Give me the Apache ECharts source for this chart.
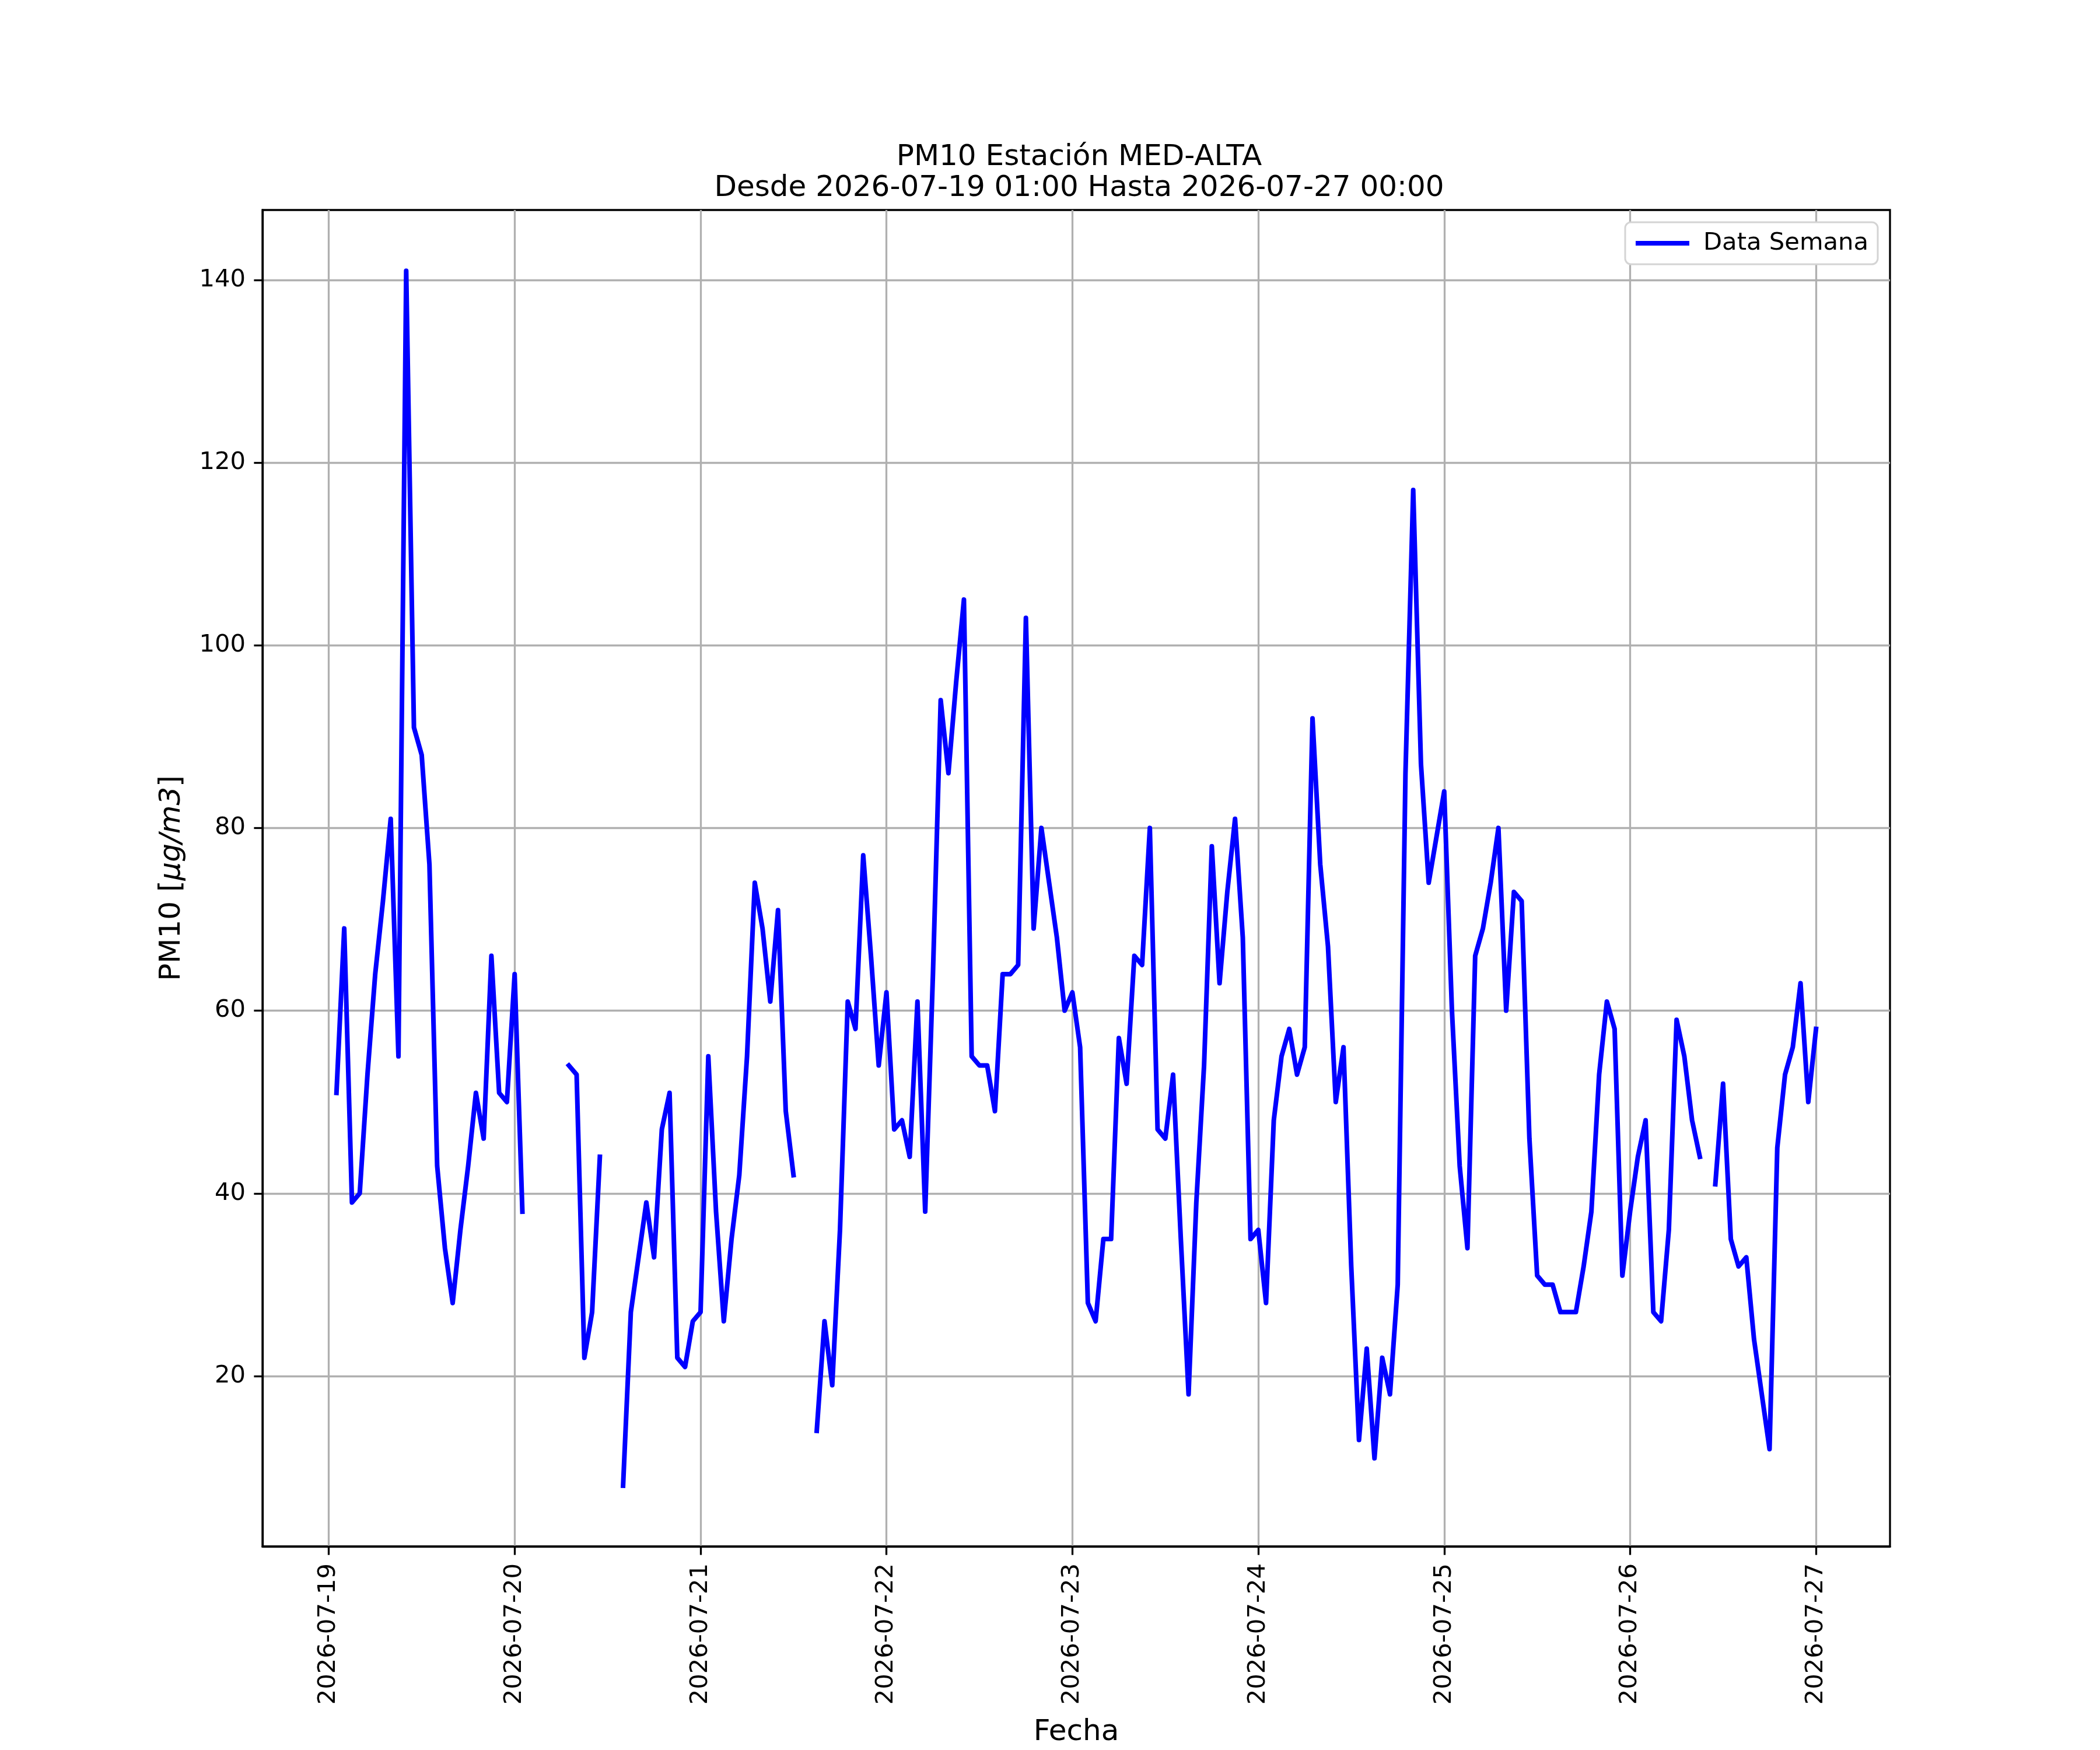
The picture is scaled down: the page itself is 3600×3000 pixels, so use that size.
<!DOCTYPE html>
<html>
<head>
<meta charset="utf-8">
<title>PM10 Estación MED-ALTA</title>
<script src="https://cdn.jsdelivr.net/npm/echarts@6/dist/echarts.min.js"></script>
<style>
  html, body { margin: 0; padding: 0; background: #fff; }
  #chart { width: 3600px; height: 3000px; }
</style>
</head>
<body>
<div id="chart"></div>
<script>
// hourly readings, first one at 2026-07-19 01:00, null = no data
const firstHour = '2026-07-19 01:00';
const pm10 = [
  51, 69, 39, 40, 53, 64, 72, 81, 55, 141, 91, 88, 76, 43, 34, 28, 36, 43, 51, 46, 66, 51, 50, 64,
  38, null, null, null, null, null, 54, 53, 22, 27, 44, null, null, 8, 27, 33, 39, 33, 47, 51, 22, 21, 26, 27,
  55, 38, 26, 35, 42, 55, 74, 69, 61, 71, 49, 42, null, null, 14, 26, 19, 36, 61, 58, 77, 66, 54, 62,
  47, 48, 44, 61, 38, 64, 94, 86, 96, 105, 55, 54, 54, 49, 64, 64, 65, 103, 69, 80, 74, 68, 60, 62,
  56, 28, 26, 35, 35, 57, 52, 66, 65, 80, 47, 46, 53, 35, 18, 39, 54, 78, 63, 73, 81, 68, 35, 36,
  28, 48, 55, 58, 53, 56, 92, 76, 67, 50, 56, 32, 13, 23, 11, 22, 18, 30, 86, 117, 87, 74, 79, 84,
  60, 43, 34, 66, 69, 74, 80, 60, 73, 72, 46, 31, 30, 30, 27, 27, 27, 32, 38, 53, 61, 58, 31, 38,
  44, 48, 27, 26, 36, 59, 55, 48, 44, null, 41, 52, 35, 32, 33, 24, 18, 12, 45, 53, 56, 63, 50, 58
];
const dayTicks = ['2026-07-19', '2026-07-20', '2026-07-21', '2026-07-22', '2026-07-23',
  '2026-07-24', '2026-07-25', '2026-07-26', '2026-07-27'];
const yTicks = [20, 40, 60, 80, 100, 120, 140];

const FONT = 'DejaVu Sans';
const HOUR = 3600 * 1000;

function parseLocal(s) {
  const [d, t] = s.split(' ');
  const [y, m, dd] = d.split('-').map(Number);
  const [hh, mm] = (t || '00:00').split(':').map(Number);
  return new Date(y, m - 1, dd, hh, mm).getTime();
}
function fmtDay(v) {
  const d = new Date(v);
  const p = n => String(n).padStart(2, '0');
  return d.getFullYear() + '-' + p(d.getMonth() + 1) + '-' + p(d.getDate());
}

const t0 = parseLocal(firstHour);
const points = pm10.map((v, i) => [t0 + i * HOUR, v === null ? '-' : v]);
const tFirst = points[0][0], tLast = points[points.length - 1][0];
const xPad = (tLast - tFirst) * 0.05;
const vals = pm10.filter(v => v !== null);
const yLo = Math.min(...vals), yHi = Math.max(...vals);
const yPad = (yHi - yLo) * 0.05;
const dayTimes = dayTicks.map(parseLocal);

const chart = echarts.init(document.getElementById('chart'), null, { renderer: 'canvas' });
chart.setOption({
  animation: false,
  backgroundColor: '#ffffff',
  textStyle: { fontFamily: FONT },
  title: {
    text: 'PM10 Estación MED-ALTA\nDesde 2026-07-19 01:00 Hasta 2026-07-27 00:00',
    left: 1845, top: 239, textAlign: 'center',
    textStyle: { fontFamily: FONT, fontSize: 50, fontWeight: 'normal', lineHeight: 53, color: '#000' }
  },
  legend: {
    data: ['Data Semana'],
    right: 381, top: 381,
    icon: 'rect', itemWidth: 92, itemHeight: 8,
    padding: [15, 16, 15, 18],
    backgroundColor: '#ffffff',
    borderColor: '#d4d4d4', borderWidth: 3, borderRadius: 10,
    textStyle: { fontFamily: FONT, fontSize: 41.7, color: '#000', padding: [0, 0, 0, 19] }
  },
  grid: { left: 450, right: 360, top: 360, bottom: 330, show: true, borderColor: '#000', borderWidth: 3.3, backgroundColor: 'transparent' },
  xAxis: {
    type: 'value',
    min: tFirst - xPad, max: tLast + xPad,
    name: 'Fecha', nameLocation: 'middle', nameGap: 294,
    nameTextStyle: { fontFamily: FONT, fontSize: 50, color: '#000' },
    axisLine: { show: true, lineStyle: { color: '#000', width: 3.3 } },
    axisTick: { show: true, inside: false, length: 14.6, customValues: dayTimes, lineStyle: { color: '#000', width: 3.3 } },
    axisLabel: {
      customValues: dayTimes, rotate: 90, margin: 29, formatter: v => fmtDay(v),
      fontFamily: FONT, fontSize: 41.7, color: '#000', hideOverlap: false
    },
    splitLine: { show: true, lineStyle: { color: '#b0b0b0', width: 3.3 } }
  },
  yAxis: {
    type: 'value',
    min: yLo - yPad, max: yHi + yPad,
    name: '{a|PM10 [}{b|μg/m3}{a|]}', nameLocation: 'middle', nameGap: 130,
    nameTextStyle: {
      rich: {
        a: { fontFamily: FONT, fontSize: 50, color: '#000' },
        b: { fontFamily: FONT, fontSize: 50, fontStyle: 'italic', color: '#000' }
      }
    },
    axisLine: { show: true, lineStyle: { color: '#000', width: 3.3 } },
    axisTick: { show: true, inside: false, length: 14.6, customValues: yTicks, lineStyle: { color: '#000', width: 3.3 } },
    axisLabel: { customValues: yTicks, margin: 29, fontFamily: FONT, fontSize: 41.7, color: '#000' },
    splitLine: { show: true, lineStyle: { color: '#b0b0b0', width: 3.3 } }
  },
  series: [{
    name: 'Data Semana',
    type: 'line',
    data: points,
    showSymbol: false,
    connectNulls: false,
    color: '#0000ff',
    lineStyle: { color: '#0000ff', width: 8, cap: 'square', join: 'round' }
  }]
});
</script>
</body>
</html>
